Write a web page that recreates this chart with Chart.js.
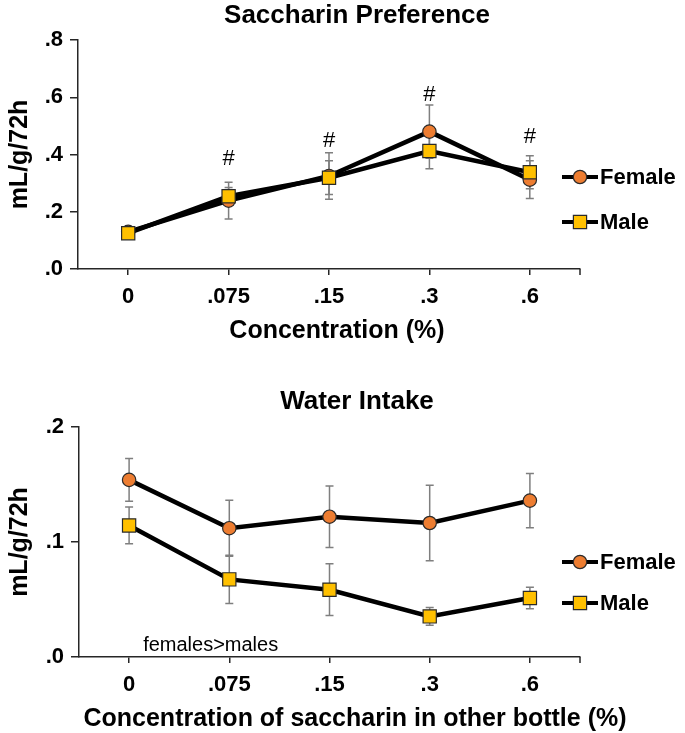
<!DOCTYPE html>
<html>
<head>
<meta charset="utf-8">
<script src="https://cdn.jsdelivr.net/npm/chart.js@4.4.0/dist/chart.umd.min.js"></script>
<style>
  html, body { margin: 0; padding: 0; background: #fff; }
  #wrap { position: relative; width: 685px; height: 733px; }
  canvas { position: absolute; left: 0; }
</style>
</head>
<body>
<div id="wrap">
  <canvas id="prefChart" width="685" height="360" style="top:0"></canvas>
  <canvas id="waterChart" width="685" height="373" style="top:360px"></canvas>
</div>
<script>
// Категории (концентрация сахарина)
const concentrations = ['0', '.075', '.15', '.3', '.6'];

// Saccharin Preference
const prefFemale = [0.130, 0.239, 0.325, 0.480, 0.312];
const prefFemaleErr = [0.008, 0.064, 0.081, 0.093, 0.066];
const prefMale = [0.125, 0.254, 0.319, 0.412, 0.338];
const prefMaleErr = [0.008, 0.031, 0.059, 0.062, 0.058];
const prefHashY = [null, 0.384, 0.447, 0.608, 0.462];

// Water Intake
const waterFemale = [0.154, 0.112, 0.122, 0.1165, 0.136];
const waterFemaleErr = [0.0186, 0.0244, 0.0267, 0.0328, 0.0236];
const waterMale = [0.1144, 0.0675, 0.0585, 0.0353, 0.0513];
const waterMaleErr = [0.016, 0.021, 0.0225, 0.0077, 0.0094];

const FONT = '"Liberation Sans", Arial, sans-serif';
const AXIS_COLOR = '#262626';
const FEMALE_COLOR = '#ED7D31';
const MALE_COLOR = '#FFC000';
const MARKER_BORDER = '#2a2a2a';

// Планки погрешностей (рисуем под линиями)
const errorBarPlugin = {
    id: 'errorBars',
    beforeDatasetsDraw(chart) {
        const ctx = chart.ctx;
        const x = chart.scales.x, y = chart.scales.y;
        ctx.save();
        ctx.strokeStyle = '#7f7f7f';
        ctx.lineWidth = 1.5;
        chart.data.datasets.forEach(ds => {
            (ds.errors || []).forEach((err, i) => {
                const v = ds.data[i];
                if (v == null || !err) return;
                const px = x.getPixelForValue(i);
                const top = y.getPixelForValue(v + err);
                const bot = y.getPixelForValue(v - err);
                ctx.beginPath();
                ctx.moveTo(px, top); ctx.lineTo(px, bot);
                ctx.moveTo(px - 4, top); ctx.lineTo(px + 4, top);
                ctx.moveTo(px - 4, bot); ctx.lineTo(px + 4, bot);
                ctx.stroke();
            });
        });
        ctx.restore();
    }
};

function drawMarker(ctx, style, cx, cy, color) {
    ctx.fillStyle = color;
    ctx.strokeStyle = MARKER_BORDER;
    ctx.lineWidth = 1.2;
    ctx.beginPath();
    if (style === 'circle') {
        ctx.arc(cx, cy, 6.7, 0, Math.PI * 2);
    } else {
        ctx.rect(cx - 6.6, cy - 6.6, 13.2, 13.2);
    }
    ctx.fill();
    ctx.stroke();
}

// Заголовок, подпись оси X, легенда, пометки
const overlayPlugin = {
    id: 'overlay',
    afterDraw(chart, args, opts) {
        const ctx = chart.ctx;
        const area = chart.chartArea;
        const x = chart.scales.x, y = chart.scales.y;
        ctx.save();

        // правый тик оси X
        ctx.strokeStyle = AXIS_COLOR;
        ctx.lineWidth = 1.5;
        ctx.beginPath();
        ctx.moveTo(area.right, area.bottom);
        ctx.lineTo(area.right, area.bottom + 6);
        ctx.stroke();

        // заголовок
        ctx.fillStyle = '#000';
        ctx.font = 'bold 26px ' + FONT;
        ctx.textAlign = 'center';
        ctx.textBaseline = 'middle';
        ctx.fillText(opts.title, opts.titleX, opts.titleY);

        // подпись оси X
        ctx.font = 'bold ' + opts.xTitleSize + 'px ' + FONT;
        ctx.fillText(opts.xTitle, opts.xTitleX, opts.xTitleY);

        // легенда
        chart.data.datasets.forEach((ds, k) => {
            const ly = opts.legendY[k];
            ctx.strokeStyle = '#000';
            ctx.lineWidth = 4;
            ctx.beginPath();
            ctx.moveTo(562, ly);
            ctx.lineTo(598, ly);
            ctx.stroke();
            drawMarker(ctx, ds.pointStyle, 580, ly, ds.pointBackgroundColor);
            ctx.fillStyle = '#000';
            ctx.font = 'bold 22px ' + FONT;
            ctx.textAlign = 'left';
            ctx.textBaseline = 'middle';
            ctx.fillText(ds.label, 600, ly + 1);
        });

        // значки #
        if (opts.hash) {
            ctx.fillStyle = '#000';
            ctx.font = '22px ' + FONT;
            ctx.textAlign = 'center';
            ctx.textBaseline = 'middle';
            opts.hash.forEach((v, i) => {
                if (v == null) return;
                ctx.fillText('#', x.getPixelForValue(i), y.getPixelForValue(v));
            });
        }

        // подпись
        if (opts.note) {
            ctx.fillStyle = '#000';
            ctx.font = '20px ' + FONT;
            ctx.textAlign = 'left';
            ctx.textBaseline = 'middle';
            ctx.fillText(opts.note.text, x.getPixelForValue(opts.note.x), y.getPixelForValue(opts.note.y));
        }
        ctx.restore();
    }
};

function makeChart(canvasId, cfg) {
    const ctx = document.getElementById(canvasId).getContext('2d');
    return new Chart(ctx, {
        type: 'line',
        data: {
            labels: concentrations,
            datasets: [{
                label: 'Female',
                data: cfg.female,
                errors: cfg.femaleErr,
                borderColor: '#000',
                borderWidth: 4.5,
                pointStyle: 'circle',
                pointRadius: 6.7,
                pointHoverRadius: 6.7,
                pointBackgroundColor: FEMALE_COLOR,
                pointBorderColor: MARKER_BORDER,
                pointBorderWidth: 1.2,
                order: 1
            }, {
                label: 'Male',
                data: cfg.male,
                errors: cfg.maleErr,
                borderColor: '#000',
                borderWidth: 4.5,
                pointStyle: 'rect',
                pointRadius: 9.35,
                pointHoverRadius: 9.35,
                pointBackgroundColor: MALE_COLOR,
                pointBorderColor: MARKER_BORDER,
                pointBorderWidth: 1.2,
                order: 0
            }]
        },
        options: {
            responsive: false,
            animation: false,
            devicePixelRatio: 1,
            layout: { padding: { top: cfg.padTop, right: 105, bottom: 0, left: 0 } },
            plugins: {
                legend: { display: false },
                title: { display: false },
                tooltip: { enabled: false },
                overlay: {
                    title: cfg.title,
                    titleX: 357,
                    titleY: cfg.titleY,
                    xTitle: cfg.xTitle,
                    xTitleX: cfg.xTitleX,
                    xTitleY: cfg.xTitleY,
                    xTitleSize: cfg.xTitleSize,
                    legendY: cfg.legendY,
                    hash: cfg.hash,
                    note: cfg.note
                }
            },
            scales: {
                x: {
                    offset: true,
                    afterFit: s => { s.height = cfg.xHeight; },
                    grid: {
                        display: true, offset: false, drawOnChartArea: false,
                        drawTicks: true, tickLength: 6, color: AXIS_COLOR, lineWidth: 1.5
                    },
                    border: { display: true, color: AXIS_COLOR, width: 1.5 },
                    ticks: {
                        padding: 9, color: '#000', maxRotation: 0,
                        font: { family: FONT, size: 22, weight: 'bold' }
                    },
                    title: { display: false }
                },
                y: {
                    min: 0,
                    max: cfg.yMax,
                    afterFit: s => { s.width = cfg.yWidth; },
                    grid: {
                        display: true, drawOnChartArea: false,
                        drawTicks: true, tickLength: 8, color: AXIS_COLOR, lineWidth: 1.5
                    },
                    border: { display: true, color: AXIS_COLOR, width: 1.5 },
                    ticks: {
                        stepSize: cfg.yStep, padding: 7, color: '#000',
                        font: { family: FONT, size: 22, weight: 'bold' },
                        callback: v => v.toFixed(1).replace(/^0/, '')
                    },
                    title: {
                        display: true, text: 'mL/g/72h', color: '#000',
                        padding: { top: 5, bottom: 0 },
                        font: { family: FONT, size: 25, weight: 'bold' }
                    }
                }
            }
        },
        plugins: [errorBarPlugin, overlayPlugin]
    });
}

makeChart('prefChart', {
    title: 'Saccharin Preference',
    titleY: 16,
    female: prefFemale, femaleErr: prefFemaleErr,
    male: prefMale, maleErr: prefMaleErr,
    hash: prefHashY,
    note: null,
    legendY: [177, 222],
    padTop: 40, xHeight: 91, yWidth: 78,
    yMax: 0.8, yStep: 0.2,
    xTitle: 'Concentration (%)', xTitleX: 337, xTitleY: 331, xTitleSize: 25
});

makeChart('waterChart', {
    title: 'Water Intake',
    titleY: 42,
    female: waterFemale, femaleErr: waterFemaleErr,
    male: waterMale, maleErr: waterMaleErr,
    hash: null,
    note: { text: 'females>males', x: 0.14, y: 0.0096 },
    legendY: [202, 243],
    padTop: 67, xHeight: 76, yWidth: 79,
    yMax: 0.2, yStep: 0.1,
    xTitle: 'Concentration of saccharin in other bottle (%)', xTitleX: 355, xTitleY: 359, xTitleSize: 25
});
</script>
</body>
</html>
